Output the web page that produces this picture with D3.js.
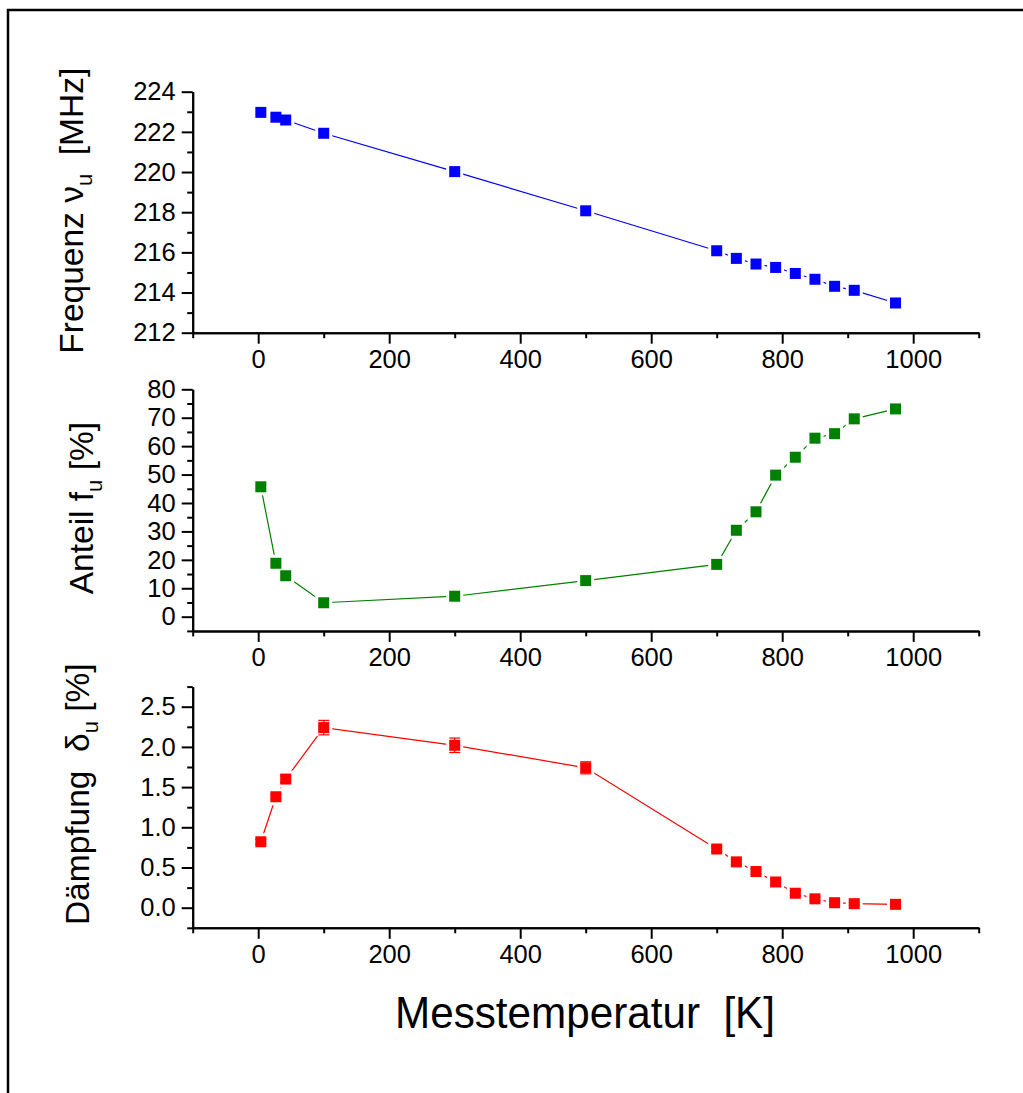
<!DOCTYPE html>
<html>
<head>
<meta charset="utf-8">
<script src="https://cdn.jsdelivr.net/npm/d3@7"></script>
<style>
  html, body { margin: 0; padding: 0; background: #fff; }
  svg { display: block; }
  text { font-family: "Liberation Sans", Arial, sans-serif; fill: #000; white-space: pre; }
</style>
</head>
<body>
<svg id="chart" width="1023" height="1093"></svg>
<script>
// Measurement temperatures [K]
const temperature = [4, 27, 42, 100, 300, 500, 700, 730, 760, 790, 820, 850, 880, 910, 973];
// Frequency ν_u [MHz]
const frequency = [222.97, 222.73, 222.59, 221.93, 220.02, 218.07, 216.08, 215.70, 215.42, 215.25, 214.95, 214.66, 214.31, 214.11, 213.48];
// Fraction f_u [%]
const fraction = [45.7, 18.8, 14.4, 4.9, 7.2, 12.7, 18.4, 30.4, 36.9, 49.8, 56.1, 62.8, 64.4, 69.6, 73.1];
// Damping δ_u [%] and its uncertainty
const damping = [0.82, 1.38, 1.60, 2.24, 2.02, 1.74, 0.73, 0.57, 0.45, 0.32, 0.18, 0.11, 0.062, 0.05, 0.042];
const dampingErr = [0.03, 0.03, 0.04, 0.09, 0.09, 0.075, 0.03, 0.03, 0.03, 0.03, 0.03, 0.02, 0.02, 0.02, 0.02];

// Axis ticks
const xMajor = [0, 200, 400, 600, 800, 1000];
const xMinor = [-100, 100, 300, 500, 700, 900, 1100];
const freqMajor = [212, 214, 216, 218, 220, 222, 224];
const freqMinor = [213, 215, 217, 219, 221, 223];
const fracMajor = [0, 10, 20, 30, 40, 50, 60, 70, 80];
const fracMinor = [-5, 5, 15, 25, 35, 45, 55, 65, 75];
const dampMajor = [0, 0.5, 1.0, 1.5, 2.0, 2.5];
const dampMinor = [-0.25, 0.25, 0.75, 1.25, 1.75, 2.25, 2.75];

const svg = d3.select("#chart");

// outer frame (only left and top edges fall inside the page)
svg.append("rect")
  .attr("x", 8).attr("y", 10).attr("width", 1040).attr("height", 1120)
  .attr("fill", "none").attr("stroke", "#000").attr("stroke-width", 2.5);

const x = d3.scaleLinear().domain([-100, 1100]).range([192.7, 978.7]);

const panels = [
  {
    values: frequency, err: null, color: "#0000ff",
    y: d3.scaleLinear().domain([212, 224]).range([332.7, 91.7]),
    major: freqMajor, minor: freqMinor, fmt: d3.format("d"),
    title: [["Frequenz ν", 0], ["u", 1], ["  [MHz]", 2]], titleX: 83, titleShift: -1.5
  },
  {
    values: fraction, err: null, color: "#008000",
    y: d3.scaleLinear().domain([-5, 80]).range([630.9, 389.3]),
    major: fracMajor, minor: fracMinor, fmt: d3.format("d"),
    title: [["Anteil f", 0], ["u", 1], [" [%]", 2]], titleX: 93, titleShift: -2
  },
  {
    values: damping, err: dampingErr, color: "#ff0000",
    y: d3.scaleLinear().domain([-0.25, 2.75]).range([927.8, 686.6]),
    major: dampMajor, minor: dampMinor, fmt: d3.format(".1f"),
    title: [["Dämpfung  δ", 0], ["u", 1], [" [%]", 2]], titleX: 89, titleShift: -13
  }
];

const tickFont = 25.5;

panels.forEach(p => {
  const g = svg.append("g");
  const y0 = p.y.range()[0];

  // x axis: major ticks with labels, minor ticks without
  const xAxisMajor = d3.axisBottom(x).tickValues(xMajor).tickSize(11).tickSizeOuter(0)
    .tickPadding(6).tickFormat(d3.format("d"));
  const xAxisMinor = d3.axisBottom(x).tickValues(xMinor).tickSize(5.5).tickSizeOuter(0).tickFormat("");
  const gxm = g.append("g").attr("transform", `translate(0,${y0})`).call(xAxisMinor);
  const gx = g.append("g").attr("transform", `translate(0,${y0})`).call(xAxisMajor);

  // y axis
  const yAxisMajor = d3.axisLeft(p.y).tickValues(p.major).tickSize(11).tickSizeOuter(0)
    .tickPadding(6).tickFormat(p.fmt);
  const yAxisMinor = d3.axisLeft(p.y).tickValues(p.minor).tickSize(5.5).tickSizeOuter(0).tickFormat("");
  const gym = g.append("g").attr("transform", `translate(${x.range()[0]},0)`).call(yAxisMinor);
  const gy = g.append("g").attr("transform", `translate(${x.range()[0]},0)`).call(yAxisMajor);

  [gx, gxm, gy, gym].forEach(a => {
    a.selectAll("path.domain").attr("stroke", "#000").attr("stroke-width", 2);
    a.selectAll(".tick line").attr("stroke", "#000").attr("stroke-width", 2);
    a.selectAll(".tick text").attr("font-size", tickFont)
      .attr("font-family", '"Liberation Sans", Arial, sans-serif').attr("fill", "#000");
  });

  // y axis title with subscript
  const yMid = (p.y.range()[0] + p.y.range()[1]) / 2 + p.titleShift;
  const t = g.append("text")
    .attr("transform", `translate(${p.titleX},${yMid}) rotate(-90)`)
    .attr("text-anchor", "middle")
    .attr("font-size", 33.5);
  p.title.forEach(([s, kind]) => {
    const ts = t.append("tspan").text(s);
    if (kind === 1) ts.attr("font-size", 22).attr("dy", 9);
    if (kind === 2) ts.attr("dy", -9);
  });

  const pts = temperature.map((tv, i) => [x(tv), p.y(p.values[i])]);

  // connecting line
  g.append("path")
    .attr("d", d3.line()(pts))
    .attr("fill", "none").attr("stroke", p.color).attr("stroke-width", 1.2);

  const ms = 11;
  // white gaps between line and symbols
  g.append("g").selectAll("rect").data(pts).join("rect")
    .attr("x", d => d[0] - ms / 2 - 3).attr("y", d => d[1] - ms / 2 - 3)
    .attr("width", ms + 6).attr("height", ms + 6).attr("fill", "#fff");

  // error bars
  if (p.err) {
    const eb = g.append("g").attr("stroke", p.color).attr("stroke-width", 1.2);
    temperature.forEach((tv, i) => {
      const cx = x(tv);
      const yt = p.y(p.values[i] + p.err[i]);
      const yb = p.y(p.values[i] - p.err[i]);
      eb.append("line").attr("x1", cx).attr("x2", cx).attr("y1", yt).attr("y2", yb);
      eb.append("line").attr("x1", cx - 5.5).attr("x2", cx + 5.5).attr("y1", yt).attr("y2", yt);
      eb.append("line").attr("x1", cx - 5.5).attr("x2", cx + 5.5).attr("y1", yb).attr("y2", yb);
    });
  }

  // square symbols
  g.append("g").selectAll("rect").data(pts).join("rect")
    .attr("x", d => d[0] - ms / 2).attr("y", d => d[1] - ms / 2)
    .attr("width", ms).attr("height", ms).attr("fill", p.color);
});

// common x axis title
svg.append("text")
  .attr("x", 585).attr("y", 1028)
  .attr("text-anchor", "middle")
  .attr("font-size", 45)
  .attr("textLength", 380).attr("lengthAdjust", "spacingAndGlyphs")
  .text("Messtemperatur  [K]");
</script>
</body>
</html>
